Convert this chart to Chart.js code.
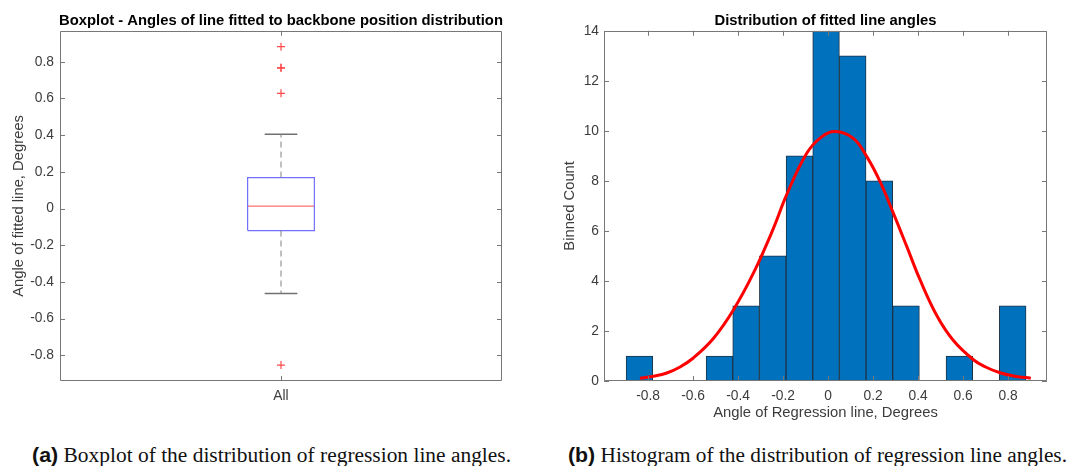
<!DOCTYPE html>
<html>
<head>
<meta charset="utf-8">
<script src="https://cdn.jsdelivr.net/npm/chart.js@4/dist/chart.umd.min.js"></script>
<style>
  html, body { margin: 0; padding: 0; background: #fff; }
  body { width: 1070px; height: 466px; position: relative; overflow: hidden; }
  canvas { position: absolute; top: 0; }
  #c1 { left: 0; }
  #c2 { left: 540px; }
  .cap { position: absolute; top: 443px; white-space: nowrap; font-family: "Liberation Serif", serif; font-size: 20px; line-height: 24px; color: #111; transform-origin: 0 50%; }
  .cap b { font-family: "Liberation Sans", Arial, sans-serif; font-weight: bold; }
</style>
</head>
<body>
<canvas id="c1" width="530" height="430"></canvas>
<canvas id="c2" width="530" height="430"></canvas>
<div class="cap" id="capA" style="left:32px" data-w="479"><b>(a)</b> Boxplot of the distribution of regression line angles.</div>
<div class="cap" id="capB" style="left:568px" data-w="499"><b>(b)</b> Histogram of the distribution of regression line angles.</div>
<script>
// ---------- data: boxplot ----------
const boxCategories = ['All'];
const boxQuartiles = [-0.120, 0.013, 0.169];   // Q1, median, Q3
const boxWhiskers = [-0.463, 0.405];           // lower, upper whisker ends
const boxOutliers = [0.882, 0.767, 0.767, 0.628, -0.853];

// ---------- data: histogram ----------
const binEdges = [-0.898, -0.779, -0.661, -0.542, -0.424, -0.305, -0.187, -0.068, 0.050, 0.169, 0.287, 0.406, 0.524, 0.643, 0.761, 0.880];
const binCounts = [1, 0, 0, 1, 3, 5, 9, 14, 13, 8, 3, 0, 1, 0, 3];
const fitX = [-0.836, -0.77, -0.717, -0.66, -0.599, -0.510, -0.421, -0.332, -0.243, -0.184, -0.095, -0.03, 0.031, 0.112, 0.172, 0.231, 0.290, 0.350, 0.409, 0.483, 0.557, 0.646, 0.70, 0.764, 0.83, 0.901];
const fitY = [0.11, 0.20, 0.32, 0.55, 0.92, 1.70, 2.84, 4.31, 6.10, 7.45, 9.10, 9.75, 9.97, 9.70, 8.97, 7.97, 6.71, 5.37, 4.04, 2.62, 1.62, 0.85, 0.56, 0.33, 0.19, 0.11];

// ---------- styles ----------
const AX = '#777777';
const TXT = '#3c3c3c';
const SANS = '"Liberation Sans", Arial, sans-serif';
const BOX_HALF = 0.0755;
const CAP_HALF = 0.037;

const frameTicks = {
  id: 'frameTicks',
  afterLayout(chart) {
    // centre the title over the axes box, as in the reference
    const t = chart.titleBlock, a = chart.chartArea;
    if (t) { t.left = a.left - 12; t.right = a.right + 12; t.width = t.right - t.left; }
  },
  afterDatasetsDraw(chart) {
    const {ctx, chartArea: a, scales: {x, y}} = chart;
    const TL = 5;
    ctx.save();
    ctx.strokeStyle = AX;
    ctx.lineWidth = 1;
    ctx.beginPath();
    ctx.rect(Math.round(a.left) + 0.5, Math.round(a.top) + 0.5, Math.round(a.right - a.left) - 1, Math.round(a.bottom - a.top) - 1);
    x.ticks.forEach(t => {
      const px = Math.round(x.getPixelForValue(t.value)) + 0.5;
      ctx.moveTo(px, a.bottom); ctx.lineTo(px, a.bottom - TL);
      ctx.moveTo(px, a.top); ctx.lineTo(px, a.top + TL);
    });
    y.ticks.forEach(t => {
      const py = Math.round(y.getPixelForValue(t.value)) + 0.5;
      ctx.moveTo(a.left, py); ctx.lineTo(a.left + TL, py);
      ctx.moveTo(a.right, py); ctx.lineTo(a.right - TL, py);
    });
    ctx.stroke();
    ctx.restore();
  }
};

function fmt(v) {
  const r = Math.round(v * 10) / 10;
  return (Math.abs(r) < 1e-9 ? 0 : r).toString();
}

Chart.defaults.font.family = SANS;
Chart.defaults.color = TXT;

// ---------- boxplot chart ----------
const cx = 1;
const [q1, med, q3] = boxQuartiles;
const [wLo, wHi] = boxWhiskers;
const lineDs = (pts, color, width, dash) => ({
  type: 'line', data: pts, borderColor: color, borderWidth: width, borderDash: dash || [],
  pointRadius: 0, fill: false, tension: 0
});

new Chart(document.getElementById('c1'), {
  type: 'scatter',
  data: {
    datasets: [
      lineDs([{x: cx, y: q3}, {x: cx, y: wHi}], '#808080', 1, [6, 4]),
      lineDs([{x: cx, y: q1}, {x: cx, y: wLo}], '#808080', 1, [6, 4]),
      lineDs([{x: cx - CAP_HALF, y: wHi}, {x: cx + CAP_HALF, y: wHi}], '#707070', 1.5),
      lineDs([{x: cx - CAP_HALF, y: wLo}, {x: cx + CAP_HALF, y: wLo}], '#707070', 1.5),
      lineDs([{x: cx - BOX_HALF, y: q1}, {x: cx + BOX_HALF, y: q1}, {x: cx + BOX_HALF, y: q3}, {x: cx - BOX_HALF, y: q3}, {x: cx - BOX_HALF, y: q1}], '#7070ff', 1.2),
      lineDs([{x: cx - BOX_HALF, y: med}, {x: cx + BOX_HALF, y: med}], '#ff7070', 1.2),
      {
        type: 'scatter', data: boxOutliers.map(v => ({x: cx, y: v})),
        pointStyle: 'cross', pointRadius: 4, borderColor: '#ff4a4a', borderWidth: 1.2, backgroundColor: '#ff4a4a'
      }
    ]
  },
  options: {
    responsive: false, animation: false, devicePixelRatio: 1,
    layout: { padding: { left: 0, right: 28, top: 0, bottom: 0 } },
    plugins: {
      legend: { display: false }, tooltip: { enabled: false },
      title: { display: true, text: 'Boxplot - Angles of line fitted to backbone position distribution',
        color: '#000', font: { size: 14.8, weight: 'bold', family: SANS }, padding: { top: 12, bottom: 1 } }
    },
    scales: {
      x: {
        type: 'linear', min: 0.5, max: 1.5,
        afterBuildTicks: s => { s.ticks = [{ value: 1 }]; },
        ticks: { callback: () => boxCategories[0], padding: 7, font: { size: 13.8 }, color: TXT, maxRotation: 0 },
        grid: { display: false, drawTicks: false, tickLength: 0 }, border: { display: false },
        afterFit: s => { s.height = 49; }
      },
      y: {
        type: 'linear', min: -0.94, max: 0.969,
        ticks: { stepSize: 0.2, includeBounds: false, callback: v => fmt(v), padding: 6, font: { size: 13.8 }, color: TXT },
        grid: { display: false, drawTicks: false, tickLength: 0 }, border: { display: false },
        title: { display: true, text: 'Angle of fitted line, Degrees', color: TXT, font: { size: 14.8 }, padding: { top: 10, bottom: 0 } },
        afterFit: s => { s.width = 60; }
      }
    }
  },
  plugins: [frameTicks]
});

// ---------- histogram chart ----------
const binCenters = binCounts.map((_, i) => (binEdges[i] + binEdges[i + 1]) / 2);
new Chart(document.getElementById('c2'), {
  type: 'bar',
  data: {
    datasets: [
      {
        type: 'line', data: fitX.map((x, i) => ({x, y: fitY[i]})),
        borderColor: '#ff0000', borderWidth: 3, pointRadius: 0, fill: false,
        tension: 0.4, order: 0
      },
      {
        type: 'bar', data: binCenters.map((x, i) => ({x, y: binCounts[i]})),
        backgroundColor: '#0072bd', borderColor: '#1d3347', borderWidth: 1,
        barPercentage: 1, categoryPercentage: 1, order: 1
      }
    ]
  },
  options: {
    responsive: false, animation: false, devicePixelRatio: 1,
    layout: { padding: { left: 0, right: 23, top: 0, bottom: 8 } },
    plugins: {
      legend: { display: false }, tooltip: { enabled: false },
      title: { display: true, text: 'Distribution of fitted line angles',
        color: '#000', font: { size: 14.8, weight: 'bold', family: SANS }, padding: { top: 12, bottom: 1 } }
    },
    scales: {
      x: {
        type: 'linear', min: -0.996, max: 0.973, offset: false,
        ticks: { stepSize: 0.2, includeBounds: false, callback: v => fmt(v), padding: 7, font: { size: 13.8 }, color: TXT, maxRotation: 0 },
        grid: { display: false, drawTicks: false, tickLength: 0, offset: false }, border: { display: false },
        title: { display: true, text: 'Angle of Regression line, Degrees', color: TXT, font: { size: 14.8 }, padding: { top: 0, bottom: 0 } },
        afterFit: s => { s.height = 41; }
      },
      y: {
        type: 'linear', min: 0, max: 14,
        ticks: { stepSize: 2, padding: 5, font: { size: 13.8 }, color: TXT },
        grid: { display: false, drawTicks: false, tickLength: 0 }, border: { display: false },
        title: { display: true, text: 'Binned Count', color: TXT, font: { size: 14.8 }, padding: { top: 21.5, bottom: 0 } },
        afterFit: s => { s.width = 64; }
      }
    }
  },
  plugins: [frameTicks]
});

// fit the captions to the widths they have in the reference
document.querySelectorAll('.cap').forEach(el => {
  const w = el.getBoundingClientRect().width;
  el.style.transform = 'scaleX(' + (Number(el.dataset.w) / w) + ')';
});
</script>
</body>
</html>
